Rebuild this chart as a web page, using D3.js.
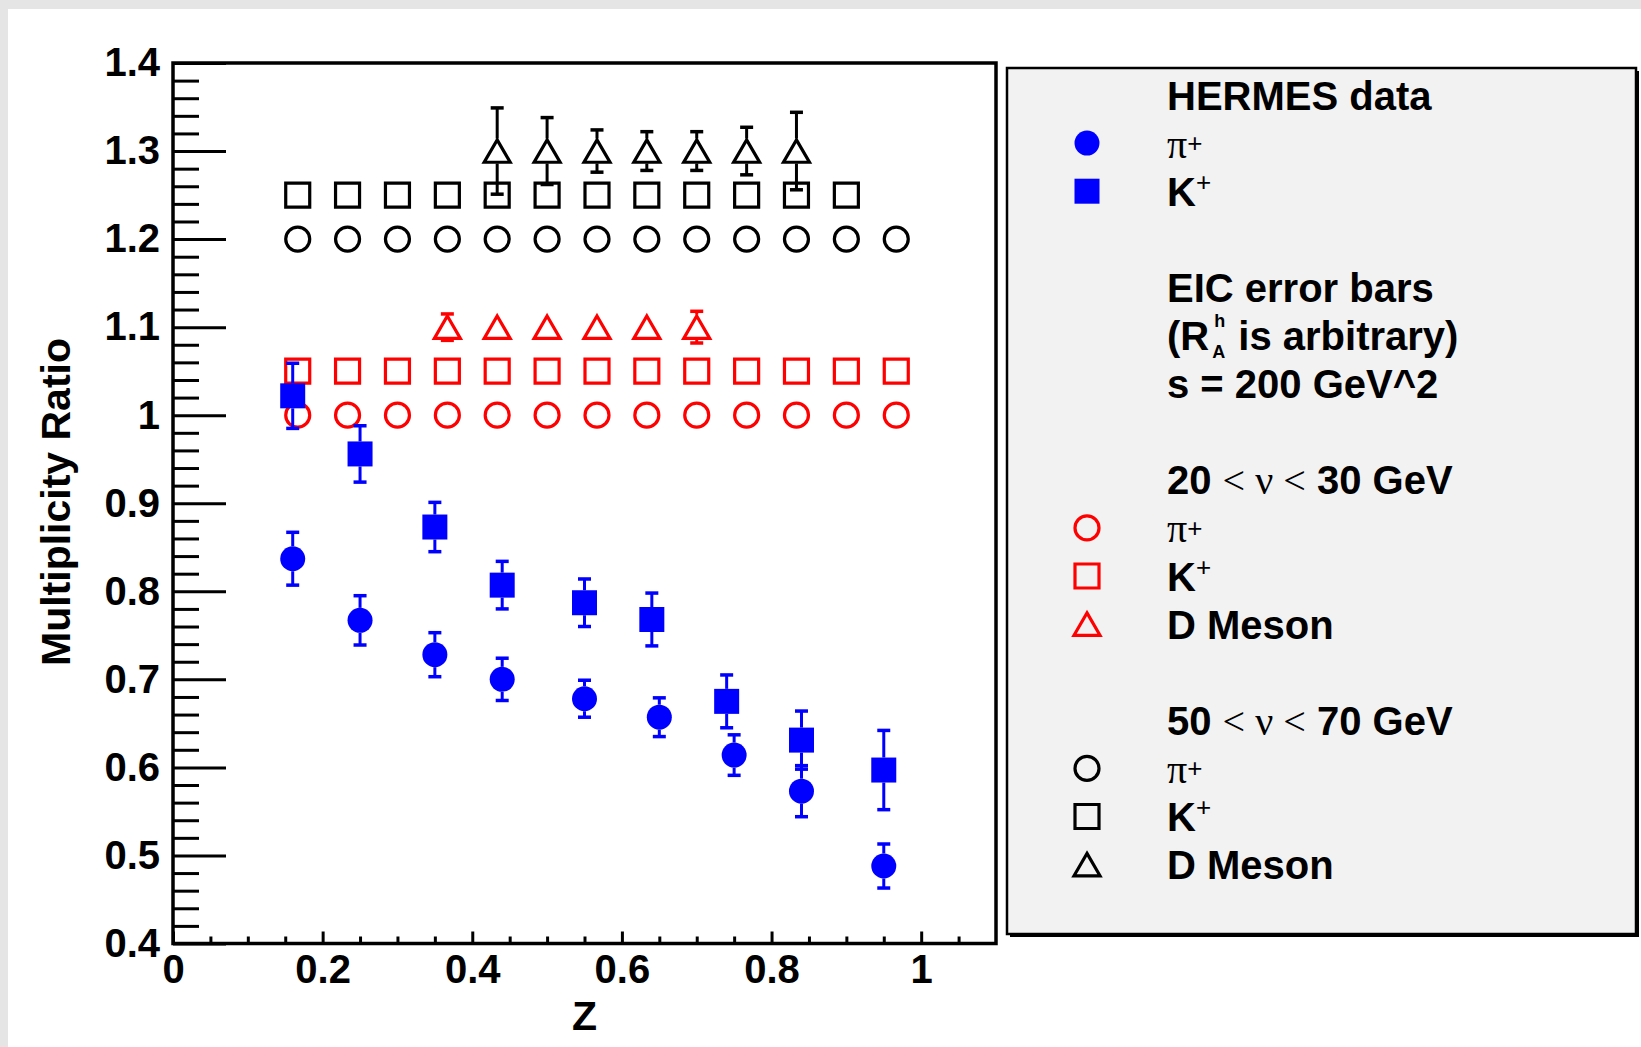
<!DOCTYPE html>
<html>
<head>
<meta charset="utf-8">
<script src="https://cdn.jsdelivr.net/npm/d3@7"></script>
<style>
  html, body { margin: 0; padding: 0; background: #e5e5e5; overflow: hidden; }
  svg { display: block; }
</style>
</head>
<body>
<svg id="chart" width="1641" height="1047"></svg>
<script>
// ---------- data ----------
// EIC projection bins in z
const eicZ = [0.1667, 0.2333, 0.3, 0.3667, 0.4333, 0.5, 0.5667, 0.6333, 0.7, 0.7667, 0.8333, 0.9, 0.9667];

// 20 < nu < 30 GeV (red)
const lowPiVal = [1, 1, 1, 1, 1, 1, 1, 1, 1, 1, 1, 1, 1];
const lowPiErr = [0.004, 0.004, 0.004, 0.004, 0.004, 0.004, 0.004, 0.004, 0.004, 0.004, 0.004, 0.004, 0.005];
const lowKVal  = [1.05, 1.05, 1.05, 1.05, 1.05, 1.05, 1.05, 1.05, 1.05, 1.05, 1.05, 1.05, 1.05];
const lowKErr  = [0.006, 0.005, 0.005, 0.005, 0.005, 0.005, 0.005, 0.005, 0.005, 0.006, 0.006, 0.007, 0.008];
const lowDZ    = [0.3667, 0.4333, 0.5, 0.5667, 0.6333, 0.7];
const lowDVal  = [1.1, 1.1, 1.1, 1.1, 1.1, 1.1];
const lowDErr  = [0.015, 0.007, 0.006, 0.006, 0.008, 0.018];

// 50 < nu < 70 GeV (black)
const highPiVal = [1.2, 1.2, 1.2, 1.2, 1.2, 1.2, 1.2, 1.2, 1.2, 1.2, 1.2, 1.2, 1.2];
const highPiErr = [0.004, 0.004, 0.004, 0.004, 0.004, 0.004, 0.004, 0.004, 0.004, 0.004, 0.005, 0.005, 0.006];
const highKZ    = [0.1667, 0.2333, 0.3, 0.3667, 0.4333, 0.5, 0.5667, 0.6333, 0.7, 0.7667, 0.8333, 0.9];
const highKVal  = [1.25, 1.25, 1.25, 1.25, 1.25, 1.25, 1.25, 1.25, 1.25, 1.25, 1.25, 1.25];
const highKErr  = [0.006, 0.006, 0.006, 0.006, 0.007, 0.007, 0.007, 0.008, 0.009, 0.01, 0.011, 0.013];
const highDZ    = [0.4333, 0.5, 0.5667, 0.6333, 0.7, 0.7667, 0.8333];
const highDVal  = [1.3, 1.3, 1.3, 1.3, 1.3, 1.3, 1.3];
const highDErr  = [0.049, 0.038, 0.024, 0.022, 0.022, 0.027, 0.044];

// HERMES measurements (blue)
const hermesPiZ   = [0.16, 0.25, 0.35, 0.44, 0.55, 0.65, 0.75, 0.84, 0.95];
const hermesPiVal = [0.837, 0.767, 0.728, 0.700, 0.678, 0.657, 0.614, 0.573, 0.488];
const hermesPiErr = [0.030, 0.028, 0.025, 0.024, 0.021, 0.022, 0.023, 0.029, 0.025];
const hermesKZ    = [0.16, 0.25, 0.35, 0.44, 0.55, 0.64, 0.74, 0.84, 0.95];
const hermesKVal  = [1.022, 0.956, 0.873, 0.807, 0.787, 0.768, 0.675, 0.631, 0.597];
const hermesKErr  = [0.037, 0.032, 0.028, 0.027, 0.027, 0.030, 0.030, 0.033, 0.045];

// axis ticks
const xTickValues = [0, 0.2, 0.4, 0.6, 0.8, 1];
const xTickLabels = ["0", "0.2", "0.4", "0.6", "0.8", "1"];
const yTickValues = [0.4, 0.5, 0.6, 0.7, 0.8, 0.9, 1, 1.1, 1.2, 1.3, 1.4];
const yTickLabels = ["0.4", "0.5", "0.6", "0.7", "0.8", "0.9", "1", "1.1", "1.2", "1.3", "1.4"];

const xTitle = "Z";
const yTitle = "Multiplicity Ratio";

// legend entries: marker key + rich-text pieces
const legendEntries = [
  { marker: null,       parts: [["HERMES data", "b"]] },
  { marker: "hermesPi", parts: [["π", "s"], ["+", "supLow"]] },
  { marker: "hermesK",  parts: [["K", "b"], ["+", "sup"]] },
  { marker: null,       parts: [] },
  { marker: null,       parts: [["EIC error bars", "b"]] },
  { marker: null,       parts: [["(R", "b"], ["h", "stackSup", "A"], [" is arbitrary)", "b"]] },
  { marker: null,       parts: [["s = 200 GeV^2", "b"]] },
  { marker: null,       parts: [] },
  { marker: null,       parts: [["20 ", "b"], ["<", "s"], [" ", "s"], ["ν", "s"], [" ", "s"], ["<", "s"], [" 30 GeV", "b"]] },
  { marker: "lowPi",    parts: [["π", "s"], ["+", "supLow"]] },
  { marker: "lowK",     parts: [["K", "b"], ["+", "sup"]] },
  { marker: "lowD",     parts: [["D Meson", "b"]] },
  { marker: null,       parts: [] },
  { marker: null,       parts: [["50 ", "b"], ["<", "s"], [" ", "s"], ["ν", "s"], [" ", "s"], ["<", "s"], [" 70 GeV", "b"]] },
  { marker: "highPi",   parts: [["π", "s"], ["+", "supLow"]] },
  { marker: "highK",    parts: [["K", "b"], ["+", "sup"]] },
  { marker: "highD",    parts: [["D Meson", "b"]] }
];

// ---------- setup ----------
const W = 1641, H = 1047;
const SANS = "'Liberation Sans', Arial, Helvetica, sans-serif";
const SERIF = "'Liberation Serif', 'Times New Roman', serif";
const FS = 40;

const svg = d3.select("#chart");
svg.append("rect").attr("x", 8).attr("y", 9).attr("width", W - 8).attr("height", H - 9).attr("fill", "#ffffff");

const x = d3.scaleLinear().domain([0, 1.1]).range([173, 996]);
const y = d3.scaleLinear().domain([0.4, 1.4]).range([943.5, 63]);

// marker shapes (open triangle centred on its bounding box)
const triangleBox = {
  draw(ctx, size) {
    const w = Math.sqrt(size), h = w * 0.86;
    ctx.moveTo(0, -h / 2);
    ctx.lineTo(w / 2, h / 2);
    ctx.lineTo(-w / 2, h / 2);
    ctx.closePath();
  }
};

const markerStyles = {
  hermesPi: { type: d3.symbolCircle,   size: Math.PI * 12.5 * 12.5, half: 12.5, fill: "#0000ff", stroke: "none",    sw: 0 },
  hermesK:  { type: d3.symbolSquare,   size: 25 * 25,               half: 12.5, fill: "#0000ff", stroke: "none",    sw: 0 },
  lowPi:    { type: d3.symbolCircle,   size: Math.PI * 12 * 12,     half: 13.5, fill: "none",    stroke: "#ff0000", sw: 3.2 },
  lowK:     { type: d3.symbolSquare,   size: 24 * 24,               half: 13.5, fill: "none",    stroke: "#ff0000", sw: 3.2 },
  lowD:     { type: triangleBox,       size: 26 * 26,               half: 12.5, fill: "none",    stroke: "#ff0000", sw: 3.2 },
  highPi:   { type: d3.symbolCircle,   size: Math.PI * 12 * 12,     half: 13.5, fill: "none",    stroke: "#000000", sw: 3.2 },
  highK:    { type: d3.symbolSquare,   size: 24 * 24,               half: 13.5, fill: "none",    stroke: "#000000", sw: 3.2 },
  highD:    { type: triangleBox,       size: 26 * 26,               half: 12.5, fill: "none",    stroke: "#000000", sw: 3.2 }
};

const series = [
  { key: "lowPi",    color: "#ff0000", z: eicZ,      v: lowPiVal,    e: lowPiErr },
  { key: "lowK",     color: "#ff0000", z: eicZ,      v: lowKVal,     e: lowKErr },
  { key: "lowD",     color: "#ff0000", z: lowDZ,     v: lowDVal,     e: lowDErr },
  { key: "highPi",   color: "#000000", z: eicZ,      v: highPiVal,   e: highPiErr },
  { key: "highK",    color: "#000000", z: highKZ,    v: highKVal,    e: highKErr },
  { key: "highD",    color: "#000000", z: highDZ,    v: highDVal,    e: highDErr },
  { key: "hermesK",  color: "#0000ff", z: hermesKZ,  v: hermesKVal,  e: hermesKErr },
  { key: "hermesPi", color: "#0000ff", z: hermesPiZ, v: hermesPiVal, e: hermesPiErr }
];

function drawMarker(g, key, cx, cy) {
  const st = markerStyles[key];
  g.append("path")
    .attr("d", d3.symbol().type(st.type).size(st.size)())
    .attr("transform", `translate(${cx},${cy})`)
    .attr("fill", st.fill)
    .attr("stroke", st.stroke)
    .attr("stroke-width", st.sw);
}

// ---------- axes ----------
function styleAxis(g) {
  g.select(".domain").remove();
  g.selectAll(".tick line").attr("stroke", "#000").attr("stroke-width", 3);
  g.selectAll(".tick text")
    .attr("fill", "#000")
    .style("font-family", SANS)
    .style("font-weight", "bold")
    .style("font-size", FS + "px");
}

const yMinor = d3.range(0.42, 1.4, 0.02).filter(v => Math.abs(v * 10 - Math.round(v * 10)) > 1e-6);
const xMinor = d3.range(0.05, 1.1, 0.05).filter(v => Math.abs(v * 5 - Math.round(v * 5)) > 1e-6);

svg.append("g").attr("transform", `translate(${x(0)},0)`)
  .call(d3.axisLeft(y).tickValues(yMinor).tickSize(-26).tickFormat(""))
  .call(styleAxis);
svg.append("g").attr("transform", `translate(${x(0)},0)`)
  .call(d3.axisLeft(y).tickValues(yTickValues).tickSizeInner(-53).tickSizeOuter(0).tickPadding(13)
    .tickFormat((d, i) => yTickLabels[i]))
  .call(styleAxis);

svg.append("g").attr("transform", `translate(0,${y(0.4)})`)
  .call(d3.axisBottom(x).tickValues(xMinor).tickSize(-7).tickFormat(""))
  .call(styleAxis);
svg.append("g").attr("transform", `translate(0,${y(0.4)})`)
  .call(d3.axisBottom(x).tickValues(xTickValues).tickSizeInner(-12).tickSizeOuter(0).tickPadding(11)
    .tickFormat((d, i) => xTickLabels[i]))
  .call(styleAxis);

// frame
svg.append("rect")
  .attr("x", x(0)).attr("y", y(1.4))
  .attr("width", x(1.1) - x(0)).attr("height", y(0.4) - y(1.4))
  .attr("fill", "none").attr("stroke", "#000").attr("stroke-width", 3.5);

// axis titles
svg.append("text")
  .attr("x", (x(0) + x(1.1)) / 2).attr("y", 1030)
  .attr("text-anchor", "middle")
  .style("font-family", SANS).style("font-weight", "bold").style("font-size", "41px")
  .text(xTitle);

svg.append("text")
  .attr("transform", `translate(70,502) rotate(-90)`)
  .attr("text-anchor", "middle")
  .style("font-family", SANS).style("font-weight", "bold").style("font-size", "41px")
  .text(yTitle);

// ---------- data points with error bars ----------
const plot = svg.append("g");
series.forEach(s => {
  const st = markerStyles[s.key];
  const g = plot.append("g");
  s.z.forEach((zv, i) => {
    const cx = x(zv), cy = y(s.v[i]);
    const top = y(s.v[i] + s.e[i]), bot = y(s.v[i] - s.e[i]);
    if (cy - top > st.half) {
      g.append("line").attr("x1", cx).attr("x2", cx).attr("y1", cy - st.half).attr("y2", top)
        .attr("stroke", s.color).attr("stroke-width", 3);
      g.append("line").attr("x1", cx - 6.5).attr("x2", cx + 6.5).attr("y1", top).attr("y2", top)
        .attr("stroke", s.color).attr("stroke-width", 3.5);
    }
    if (bot - cy > st.half) {
      g.append("line").attr("x1", cx).attr("x2", cx).attr("y1", cy + st.half).attr("y2", bot)
        .attr("stroke", s.color).attr("stroke-width", 3);
      g.append("line").attr("x1", cx - 6.5).attr("x2", cx + 6.5).attr("y1", bot).attr("y2", bot)
        .attr("stroke", s.color).attr("stroke-width", 3.5);
    }
    drawMarker(g, s.key, cx, cy);
  });
});

// ---------- legend ----------
const legX = 1007, legY = 68, legW = 629, legH = 866;
svg.append("rect").attr("x", legX + 3).attr("y", legY + 3).attr("width", legW).attr("height", legH).attr("fill", "#000");
svg.append("rect").attr("x", legX).attr("y", legY).attr("width", legW).attr("height", legH)
  .attr("fill", "#f2f2f2").attr("stroke", "#000").attr("stroke-width", 2.5);

const rowY0 = 95, rowStep = 48.1, markX = 1087, textX = 1167;
const leg = svg.append("g");

function piece(g, txt, style, px, base) {
  const t = g.append("text").attr("x", px).attr("y", base).attr("fill", "#000").text(txt)
    .style("white-space", "pre").attr("xml:space", "preserve");
  if (style === "b") {
    t.style("font-family", SANS).style("font-weight", "bold").style("font-size", FS + "px");
  } else if (style === "s") {
    t.style("font-family", SERIF).style("font-weight", "normal").style("font-size", FS + "px");
  } else if (style === "sup" || style === "supLow") {
    t.style("font-family", SANS).style("font-weight", "normal").style("font-size", "26px")
      .attr("y", base - (style === "sup" ? 15 : 5.5));
  } else if (style === "script") {
    t.style("font-family", SANS).style("font-weight", "bold").style("font-size", "18px");
  }
  return t.node().getComputedTextLength();
}

legendEntries.forEach((row, i) => {
  const cy = rowY0 + i * rowStep;
  const base = cy + 14.5;
  if (row.marker) drawMarker(leg, row.marker, markX, cy);
  let px = textX;
  row.parts.forEach(p => {
    const [txt, style, under] = p;
    if (style === "stackSup") {
      // superscript above, subscript below, sharing one horizontal slot
      const w1 = piece(leg, txt, "script", px + 5, base - 23.5);
      const w2 = piece(leg, under, "script", px + 3, base + 7.5);
      px += Math.max(w1 + 5, w2 + 3) + 2;
    } else {
      px += piece(leg, txt, style, px, base);
    }
  });
});
</script>
</body>
</html>
